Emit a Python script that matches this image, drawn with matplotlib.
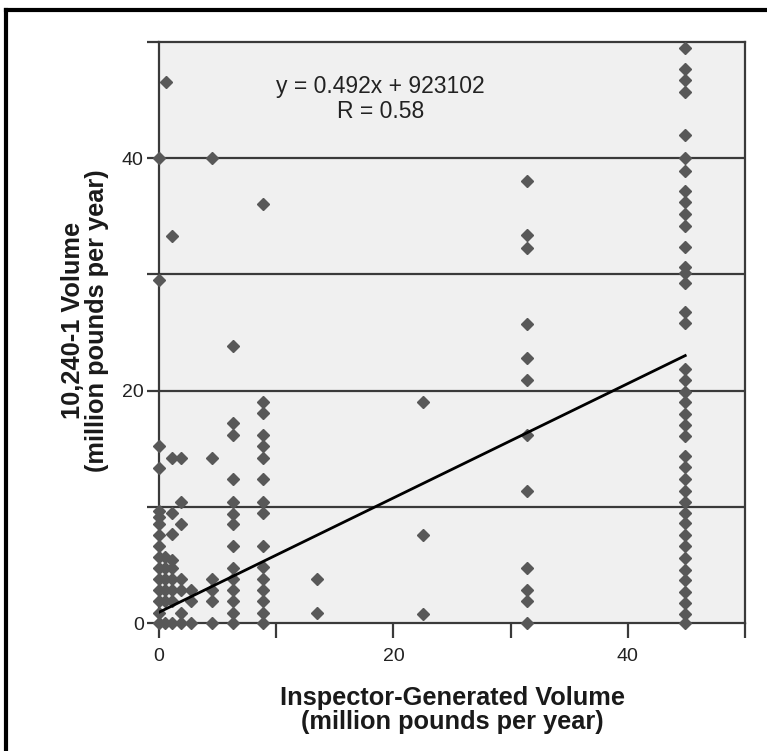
import numpy as np
import matplotlib.pyplot as plt
from matplotlib.lines import Line2D

# data (million pounds per year)
x_col0 = [0.0] * 16
y_col0 = [0, 0.9, 1.9, 2.8, 3.8, 4.7, 5.7, 6.6, 7.6, 8.5, 9.1, 9.6, 13.3, 15.2, 29.5, 40.0]
x_col05 = [0.5] * 6 + [0.6]
y_col05 = [0, 1.9, 2.8, 3.8, 4.7, 5.7, 46.6]
x_col1 = [1.1] * 10
y_col1 = [0, 1.9, 2.8, 3.8, 4.7, 5.4, 7.7, 9.5, 14.2, 33.3]
x_col2 = [1.9] * 7
y_col2 = [0, 0.9, 2.8, 3.8, 8.5, 10.4, 14.2]
x_col27 = [2.7] * 3
y_col27 = [0, 1.9, 2.8]
x_col45 = [4.5] * 6
y_col45 = [0, 1.9, 2.8, 3.8, 14.2, 40.0]
x_col64 = [6.35] * 14
y_col64 = [0, 0.9, 1.9, 2.8, 3.8, 4.7, 6.6, 8.5, 9.4, 10.4, 12.4, 16.2, 17.2, 23.8]
x_col9 = [8.9] * 16
y_col9 = [0, 0.9, 1.9, 2.8, 3.8, 4.8, 6.6, 9.5, 10.4, 12.4, 14.2, 15.2, 16.2, 18.1, 19.0, 36.1]
x_col135 = [13.5] * 2
y_col135 = [0.9, 3.8]
x_col225 = [22.5] * 3
y_col225 = [0.8, 7.6, 19.0]
x_col315 = [31.4] * 12
y_col315 = [0, 1.9, 2.8, 4.7, 11.4, 16.2, 20.9, 22.8, 25.7, 32.3, 33.4, 38.0]
x_col45b = [44.9] * 40
y_col45b = [0, 0.8, 1.7, 2.7, 3.7, 4.6, 5.6, 6.6, 7.6, 8.6, 9.5, 10.4, 11.4, 12.4,
            13.4, 14.4, 16.1, 17.0, 18.0, 19.0, 19.9, 20.9, 21.9, 25.8, 26.8, 29.3,
            30.1, 30.6, 32.4, 34.2, 35.2, 36.2, 37.2, 38.9, 40.0, 42.0, 45.7, 46.7,
            47.7, 49.5]

slope = 0.492
intercept = 0.923102
fit_x = [0, 44.9]

x_ticks = [0, 10, 20, 30, 40, 50]
x_labels = ["0", "", "20", "", "40", ""]
y_ticks = [0, 10, 20, 30, 40, 50]
y_labels = ["0", "", "20", "", "40", ""]

plt.rcParams['font.family'] = ['Liberation Sans', 'DejaVu Sans']

fig = plt.figure(figsize=(7.67, 7.51), dpi=100)
ax = fig.add_axes([159 / 767, 1 - 623 / 751, (745 - 159) / 767, (623 - 42) / 751])
ax.set_facecolor("#f0f0f0")

xs = x_col0 + x_col05 + x_col1 + x_col2 + x_col27 + x_col45 + x_col64 + x_col9 + \
    x_col135 + x_col225 + x_col315 + x_col45b
ys = y_col0 + y_col05 + y_col1 + y_col2 + y_col27 + y_col45 + y_col64 + y_col9 + \
    y_col135 + y_col225 + y_col315 + y_col45b

for yv in [10, 20, 30, 40]:
    ax.axhline(yv, color="#3a3a3a", lw=1.6, zorder=1)

ax.plot(xs, ys, linestyle="none", marker="D", ms=6.3, color="#585858",
        mec="#585858", clip_on=False, zorder=3)

fx = np.array(fit_x)
ax.plot(fx, slope * fx + intercept, color="black", lw=2, zorder=4)

ax.set_xlim(0, 50)
ax.set_ylim(0, 50)
ax.set_xticks(x_ticks)
ax.set_xticklabels(x_labels)
ax.set_yticks(y_ticks)
ax.set_yticklabels(y_labels)
ax.tick_params(axis="x", direction="out", length=11, width=1.6, color="#3a3a3a",
               labelsize=14, pad=7, labelcolor="#222222")
ax.tick_params(axis="y", direction="out", length=9, width=1.6, color="#3a3a3a",
               labelsize=14, pad=2, labelcolor="#222222")
for s in ax.spines.values():
    s.set_color("#3a3a3a")
    s.set_linewidth(1.6)

ax.set_xlabel("Inspector-Generated Volume\n(million pounds per year)",
              fontsize=18.3, fontweight="bold", color="#1a1a1a", labelpad=15,
              linespacing=1.0)
ax.set_ylabel("10,240-1 Volume\n(million pounds per year)",
              fontsize=18.3, fontweight="bold", color="#1a1a1a",
              linespacing=1.0)
ax.yaxis.set_label_coords(-0.085, 0.52)

ax.text(18.9, 46.2, "y = 0.492x + 923102", ha="center", va="center",
        fontsize=16.5, color="#222222")
ax.text(18.9, 44.0, "R = 0.58", ha="center", va="center", fontsize=16.5,
        color="#222222")

# outer frame (top and left edges visible)
fig.lines.append(Line2D([6 / 767, 1.0], [1 - 10 / 751, 1 - 10 / 751],
                        transform=fig.transFigure, color="black", lw=3))
fig.lines.append(Line2D([6 / 767, 6 / 767], [0.0, 1 - 10 / 751],
                        transform=fig.transFigure, color="black", lw=3))

fig.savefig("out.png", dpi=100)
